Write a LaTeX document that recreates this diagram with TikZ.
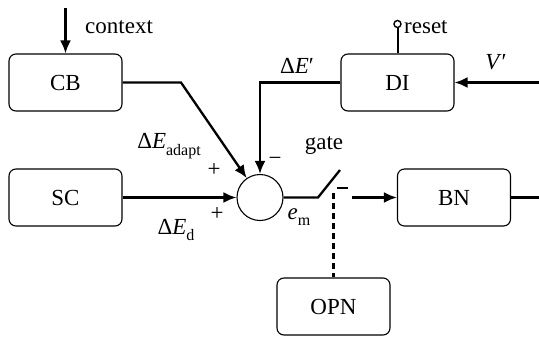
\documentclass[tikz,border=0pt]{standalone}
\usepackage{fontspec}
\setmainfont{Liberation Serif}
\usetikzlibrary{arrows.meta}
\newcommand\mysub[1]{\raisebox{-0.28em}{\fontsize{16}{17}\selectfont #1}}
\begin{document}
\begin{tikzpicture}[x=1pt,y=-1pt,
  box/.style={draw,rounded corners=7pt,line width=1.1pt,minimum width=113pt,minimum height=57pt,inner sep=0pt,font=\fontsize{23}{26}\selectfont},
  conn/.style={line width=2.3pt},
  arr/.style={conn,-{Latex[length=13pt,width=11pt]}},
  lbl/.style={font=\fontsize{23}{26}\selectfont,inner sep=0pt}]
\useasboundingbox (0,0) rectangle (539,338);
% boxes
\node[box] (CB) at (65.5,82.5) {CB};
\node[box] (DI) at (397.5,82.5) {DI};
\node[box] (SC) at (65.5,197.5) {SC};
\node[box] (BN) at (454,197.5) {BN};
\node[box] (OPN) at (333.5,306.5) {OPN};
\node[circle,draw,line width=1.1pt,minimum size=46pt,inner sep=0pt] (sum) at (260,197.5) {};
% coordinates
\coordinate (ctx) at (65.5,8);
\coordinate (cbk) at (181,82.5);
\coordinate (vin) at (539,82.5);
\coordinate (sw1) at (318,197.5);
\coordinate (sw2) at (340,170);
\coordinate (ct1) at (337,188);
\coordinate (ct2) at (348,188);
\coordinate (dtop) at (333.5,193);
\coordinate (bnin) at (352,197.5);
\coordinate (bnout) at (539,197.5);
\node[circle,draw,line width=1.4pt,minimum size=7pt,inner sep=0pt,fill=white] (rsc) at (397.5,24) {};
% connectors
\draw[arr] (ctx) -- (CB.north);
\draw[arr] (CB.east) -- (cbk) -- (sum);
\draw[arr] (SC.east) -- (sum.west);
\draw[arr] (DI.west) -| (sum.north);
\draw[arr] (vin) -- (DI.east);
\draw[line width=2pt] (DI.north) -- (rsc.south);
\draw[conn] (sum.east) -- (sw1) -- (sw2);
\draw[line width=1.1pt] (ct1) -- (ct2);
\draw[conn,dash pattern=on 6pt off 4pt] (dtop) -- (OPN.north);
\draw[arr] (bnin) -- (BN.west);
\draw[conn] (BN.east) -- (bnout);
% labels
\node[lbl,anchor=west] (lctx) at (85,27) {context};
\node[lbl,anchor=west] (lrst) at (404,27) {reset};
\node[lbl] (lv) at (496,62) {\textit{V}′};
\node[lbl] (lde) at (297,66) {Δ\textit{E}′};
\node[lbl] (lda) at (169,146) {Δ\textit{E}\mysub{adapt}};
\node[lbl] (ldd) at (176,230) {Δ\textit{E}\mysub{d}};
\node[lbl] (lp1) at (214,170) {+};
\node[lbl] (lp2) at (217,214) {+};
\node[lbl] (lm) at (275,161) {−};
\node[lbl] (lg) at (324,146) {gate};
\node[lbl] (lem) at (299,217) {\textit{e}\mysub{m}};
\end{tikzpicture}
\end{document}
